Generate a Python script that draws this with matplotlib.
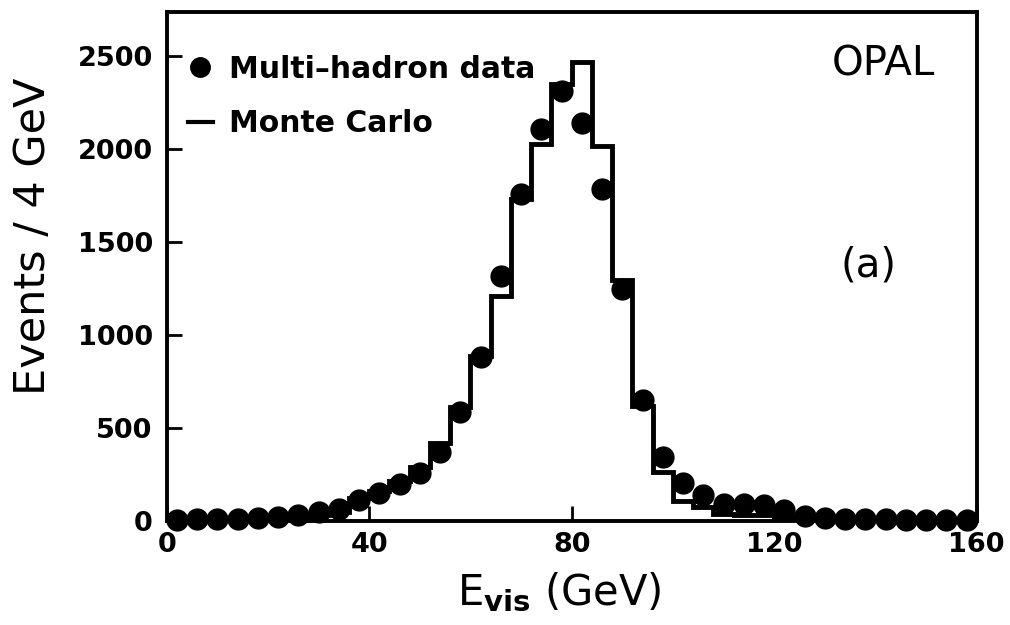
import numpy as np
import matplotlib
matplotlib.use("Agg")
import matplotlib.pyplot as plt
from matplotlib.lines import Line2D

# ---- data ----
bin_edges = np.arange(0, 164, 4)          # 4 GeV bins, 0..160
bin_centers = bin_edges[:-1] + 2

data_counts = [5, 10, 10, 10, 15, 23, 32, 50, 68, 113,
               150, 200, 260, 370, 586, 882, 1319, 1758, 2108, 2313,
               2143, 1785, 1247, 650, 347, 207, 142, 95, 95, 86,
               60, 28, 15, 12, 10, 10, 8, 8, 6, 5]

mc_counts = [3, 5, 8, 10, 12, 18, 25, 35, 50, 125,
             165, 215, 290, 420, 615, 890, 1211, 1735, 2027, 2350,
             2470, 2020, 1300, 620, 265, 110, 75, 38, 36, 35,
             25, 15, 8, 6, 5, 5, 4, 4, 3, 3]

x_ticks = [0, 40, 80, 120, 160]
y_ticks = [0, 500, 1000, 1500, 2000, 2500]

fig = plt.figure(figsize=(10.10, 6.25), dpi=100)
ax = fig.add_axes([0.165, 0.166, 0.802, 0.815])

ax.stairs(mc_counts, bin_edges, color="black", lw=3.5, baseline=None,
          zorder=2)
ax.plot(bin_centers, data_counts, "o", color="black", markersize=15,
        clip_on=False, zorder=3)

ax.set_xlim(0, 160)
ax.set_ylim(0, 2740)
ax.set_xticks(x_ticks)
ax.set_yticks(y_ticks)
ax.set_xticklabels([str(t) for t in x_ticks], fontsize=19.5, fontweight="bold")
ax.set_yticklabels([str(t) for t in y_ticks], fontsize=19.5, fontweight="bold")
ax.tick_params(direction="in", length=11, width=2, pad=10)
ax.tick_params(axis="x", pad=8)
for s in ax.spines.values():
    s.set_linewidth(2.8)

ax.set_ylabel("Events / 4 GeV", fontsize=31)
ax.yaxis.set_label_coords(-0.139, 0.56)
ax.set_xlabel(r"E$_{\mathbf{vis}}$ (GeV)", fontsize=30)
ax.xaxis.set_label_coords(0.485, -0.097)

handles = [Line2D([], [], marker="o", color="black", linestyle="none",
                  markersize=14),
           Line2D([], [], color="black", lw=3)]
ax.legend(handles, ["Multi\u2013hadron data", "Monte Carlo"],
          loc="upper left", bbox_to_anchor=(0.0, 0.957), frameon=False,
          prop={"size": 21.5, "weight": "bold"}, handlelength=0.85,
          handletextpad=0.55, labelspacing=0.85, borderaxespad=0.3)

ax.text(0.885, 0.896, "OPAL", transform=ax.transAxes, fontsize=29,
        ha="center", va="center")
ax.text(0.866, 0.503, "(a)", transform=ax.transAxes, fontsize=29,
        ha="center", va="center")

fig.savefig("out.png", dpi=100)
